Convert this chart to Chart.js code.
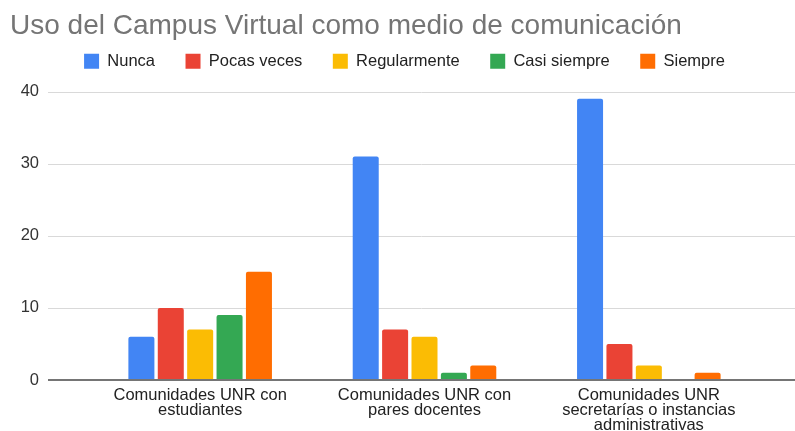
<!DOCTYPE html>
<html>
<head>
<meta charset="utf-8">
<script src="https://cdn.jsdelivr.net/npm/chart.js@4"></script>
<style>
  html, body { margin: 0; padding: 0; background: #fff; overflow: hidden; }
  canvas { display: block; }
</style>
</head>
<body>
<canvas id="usoChart" width="795" height="431"></canvas>
<script>
// ─── data ───
const categories = [
  ['Comunidades UNR con', 'estudiantes'],
  ['Comunidades UNR con', 'pares docentes'],
  ['Comunidades UNR', 'secretarías o instancias', 'administrativas']
];
const seriesNames = ['Nunca', 'Pocas veces', 'Regularmente', 'Casi siempre', 'Siempre'];
const nunca        = [6, 31, 39];
const pocasVeces   = [10, 7, 5];
const regularmente = [7, 6, 2];
const casiSiempre  = [9, 1, 0];
const siempre      = [15, 2, 1];
const yTicks = [0, 10, 20, 30, 40];

const colors = ['#4285F4', '#EA4335', '#FBBC04', '#34A853', '#FF6D01'];
const fontFamily = "Arial, 'Liberation Sans', sans-serif";
const textColor = '#222222';

// gridlines reach further left/right than the plot area, like the original
const extGrid = {
  id: 'extGrid',
  beforeDatasetsDraw(chart) {
    const { ctx, scales: { y } } = chart;
    ctx.save();
    ctx.strokeStyle = '#d9d9d9';
    ctx.lineWidth = 1;
    yTicks.filter(v => v !== 0).forEach(v => {
      const py = Math.round(y.getPixelForValue(v)) + 0.5;
      ctx.beginPath(); ctx.moveTo(48, py); ctx.lineTo(chart.width, py); ctx.stroke();
    });
    ctx.restore();
  },
  afterDatasetsDraw(chart) {
    const { ctx, scales: { y } } = chart;
    const py = Math.round(y.getPixelForValue(0));
    ctx.save();
    ctx.strokeStyle = '#757575';
    ctx.lineWidth = 2;
    ctx.beginPath(); ctx.moveTo(48, py); ctx.lineTo(chart.width, py); ctx.stroke();
    ctx.restore();
  }
};

// move the legend row to where the original had it
const legendNudge = {
  id: 'legendNudge',
  afterLayout(chart) {
    const lg = chart.legend;
    if (!lg) return;
    lg.left += 19; lg.right += 19;
    lg.top -= 12; lg.bottom -= 12;
  }
};

const seriesData = [nunca, pocasVeces, regularmente, casiSiempre, siempre];

new Chart(document.getElementById('usoChart'), {
  type: 'bar',
  data: {
    labels: categories,
    datasets: seriesNames.map((name, i) => ({
      label: name,
      data: seriesData[i],
      backgroundColor: colors[i],
      borderColor: colors[i],
      borderWidth: 0,
      borderRadius: 2,
      categoryPercentage: 0.655,
      barPercentage: 0.885
    }))
  },
  options: {
    responsive: false,
    animation: false,
    layout: { padding: { left: 10, right: 34, top: 0, bottom: 0 } },
    plugins: {
      title: {
        display: true,
        text: 'Uso del Campus Virtual como medio de comunicación',
        align: 'start',
        color: '#757575',
        font: { family: fontFamily, size: 28, weight: 'normal' },
        padding: { top: 9, bottom: -8 }
      },
      legend: {
        position: 'top',
        labels: {
          color: textColor,
          font: { family: fontFamily, size: 16.5 },
          boxWidth: 15, boxHeight: 15,
          padding: 30.5
        }
      },
      tooltip: { enabled: false }
    },
    scales: {
      x: {
        grid: { display: false },
        border: { display: false },
        ticks: {
          color: textColor, maxRotation: 0, autoSkip: false, padding: 0,
          font: { family: fontFamily, size: 16.5, lineHeight: 0.92 }
        },
        afterFit: s => { s.height = 51; }
      },
      y: {
        min: 0, max: 40,
        grid: { display: false },
        border: { display: false },
        ticks: {
          stepSize: 10, color: '#333333', padding: 41,
          font: { family: fontFamily, size: 16.5 }
        },
        afterFit: s => { s.width = 78; }
      }
    }
  },
  plugins: [extGrid, legendNudge]
});
</script>
</body>
</html>
